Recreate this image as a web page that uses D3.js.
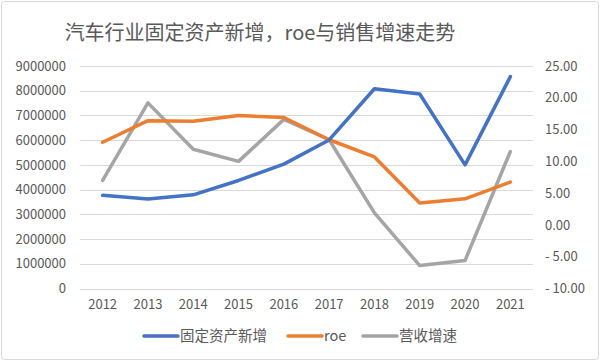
<!DOCTYPE html>
<html>
<head>
<meta charset="utf-8">
<script src="https://cdn.jsdelivr.net/npm/d3@7"></script>
<style>
  body { margin: 0; background: #fff; }
  svg text { font-family: "Noto Sans CJK SC", "Noto Sans", sans-serif; fill: #595959; }
</style>
</head>
<body>
<svg id="chart" width="600" height="361"></svg>
<script>
// data
const years = ['2012', '2013', '2014', '2015', '2016', '2017', '2018', '2019', '2020', '2021'];
const assetsNew = [3770000, 3620000, 3790000, 4370000, 5030000, 6010000, 8080000, 7870000, 5000000, 8570000];
const roe = [13.0, 16.4, 16.3, 17.2, 16.9, 13.4, 10.7, 3.45, 4.1, 6.75];
const revenueGrowth = [7.0, 19.2, 11.9, 10.0, 16.6, 13.4, 1.9, -6.4, -5.6, 11.55];
const leftTicks = [0, 1000000, 2000000, 3000000, 4000000, 5000000, 6000000, 7000000, 8000000, 9000000];
const rightTicks = [-10, -5, 0, 5, 10, 15, 20, 25];

const svg = d3.select('#chart');
const margin = { left: 80, right: 67, top: 66, bottom: 72 };
const W = 600, H = 361;

// outer chart frame
svg.append('rect')
  .attr('x', 1.5).attr('y', 1.5)
  .attr('width', W - 3).attr('height', H - 3)
  .attr('rx', 3)
  .attr('fill', '#fff')
  .attr('stroke', '#d9d9d9');

// title
svg.append('text')
  .attr('x', 260).attr('y', 40)
  .attr('text-anchor', 'middle')
  .style('font-size', '20px')
  .text('汽车行业固定资产新增，roe与销售增速走势');

const x = d3.scaleBand()
  .domain(years)
  .range([margin.left, W - margin.right]);

const yLeft = d3.scaleLinear()
  .domain([0, 9000000])
  .range([H - margin.bottom - 0.5, margin.top]);

const yRight = d3.scaleLinear()
  .domain([-10, 25])
  .range([H - margin.bottom - 0.5, margin.top]);

// gridlines
svg.append('g')
  .selectAll('line')
  .data(leftTicks)
  .join('line')
  .attr('x1', margin.left).attr('x2', W - margin.right)
  .attr('y1', d => Math.round(yLeft(d)) + 0.5)
  .attr('y2', d => Math.round(yLeft(d)) + 0.5)
  .attr('stroke', '#d9d9d9')
  .attr('stroke-width', 1);

// left axis labels
const leftAxis = svg.append('g')
  .attr('transform', `translate(${margin.left - 14},0)`)
  .call(d3.axisLeft(yLeft).tickValues(leftTicks).tickFormat(d3.format('d')).tickSize(0).tickPadding(0));
leftAxis.select('.domain').remove();
leftAxis.selectAll('text').style('font-size', '13px').attr('fill', '#595959');

// right axis labels
const rightAxis = svg.append('g')
  .attr('transform', `translate(${W - margin.right + 12},0)`)
  .call(d3.axisRight(yRight).tickValues(rightTicks)
    .tickFormat(d => (d < 0 ? '- ' + d3.format('.2f')(-d) : d3.format('.2f')(d)))
    .tickSize(0).tickPadding(0));
rightAxis.select('.domain').remove();
rightAxis.selectAll('text').style('font-size', '13px').attr('fill', '#595959');

// x axis labels
const xAxis = svg.append('g')
  .attr('transform', `translate(0,${H - margin.bottom + 11})`)
  .call(d3.axisBottom(x).tickSize(0).tickPadding(0));
xAxis.select('.domain').remove();
xAxis.selectAll('text').style('font-size', '13px').attr('fill', '#595959').attr('dy', '0.71em');

const cx = d => x(d) + x.bandwidth() / 2;

const series = [
  { name: '固定资产新增', values: assetsNew, scale: yLeft, color: '#4472c4' },
  { name: 'roe', values: roe, scale: yRight, color: '#ed7d31' },
  { name: '营收增速', values: revenueGrowth, scale: yRight, color: '#a5a5a5' }
];

// draw order: gray under, then orange, blue on top
[series[2], series[1], series[0]].forEach(s => {
  const line = d3.line()
    .x((d, i) => cx(years[i]))
    .y(d => s.scale(d))
    .curve(d3.curveLinear);
  svg.append('path')
    .datum(s.values)
    .attr('d', line)
    .attr('fill', 'none')
    .attr('stroke', s.color)
    .attr('stroke-width', 3.5)
    .attr('stroke-linejoin', 'round')
    .attr('stroke-linecap', 'round');
});

// legend
const legendItems = [
  { x: 144, s: series[0] },
  { x: 288, s: series[1] },
  { x: 363, s: series[2] }
];
const legend = svg.append('g');
legendItems.forEach(item => {
  legend.append('line')
    .attr('x1', item.x).attr('x2', item.x + 34)
    .attr('y1', 336).attr('y2', 336)
    .attr('stroke', item.s.color)
    .attr('stroke-width', 3.5)
    .attr('stroke-linecap', 'round');
  legend.append('text')
    .attr('x', item.x + 36).attr('y', 341)
    .style('font-size', '14.5px')
    .text(item.s.name);
});
</script>
</body>
</html>
